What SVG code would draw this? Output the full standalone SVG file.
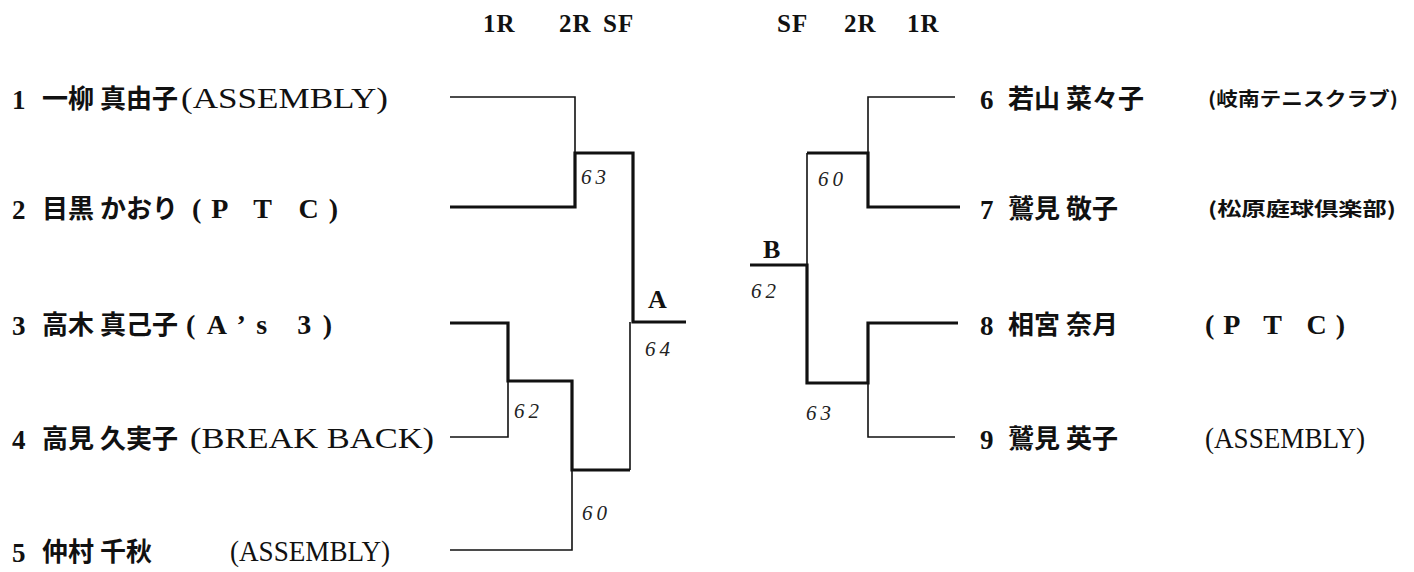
<svg xmlns="http://www.w3.org/2000/svg" width="1414" height="572" viewBox="0 0 1414 572">
<style>
.bg{fill:#fff}
.num{font-family:"Liberation Serif",serif;font-weight:bold;font-size:27px;fill:#111}
.jp{font-family:"Noto Sans CJK JP",sans-serif;font-weight:700;font-size:26px;fill:#111}
.lat{font-family:"Liberation Serif","Noto Sans CJK JP",serif;font-size:30px;fill:#111}
.latb{font-family:"Liberation Serif","Noto Sans CJK JP",serif;font-weight:bold;font-size:28px;fill:#111}
.club{font-family:"Noto Sans CJK JP",sans-serif;font-weight:bold;font-size:19px;fill:#111}
.hdr{font-family:"Liberation Serif",serif;font-weight:bold;font-size:25px;fill:#111;letter-spacing:1px}
.mk{font-family:"Liberation Serif",serif;font-weight:bold;font-size:26px;fill:#111}
.sc{font-family:"Liberation Serif",serif;font-style:italic;font-size:21px;fill:#222;letter-spacing:4px}
.thin{fill:none;stroke:#111;stroke-width:1.6}
.thick{fill:none;stroke:#111;stroke-width:3.2}
</style>
<rect class="bg" x="0" y="0" width="1414" height="572"/>
<g id="headers">
<text class="hdr" x="483" y="32">1R</text>
<text class="hdr" x="559" y="32">2R</text>
<text class="hdr" x="603" y="32">SF</text>
<text class="hdr" x="777" y="32">SF</text>
<text class="hdr" x="844" y="32">2R</text>
<text class="hdr" x="907" y="32">1R</text>
</g>
<g id="connectors">
<path class="thin" d="M450,97 H575 V153"/>
<path class="thick" d="M450,207 H575 V153 H633 V322 H686"/>
<path class="thick" d="M450,323 H508 V381 H572 V470 H630"/>
<path class="thin" d="M450,437 H508 V381"/>
<path class="thin" d="M450,550 H572 V470"/>
<path class="thin" d="M630,322 V470"/>
<path class="thin" d="M955,97 H868 V153"/>
<path class="thick" d="M960,207 H868 V153 H807"/>
<path class="thin" d="M807,153 V265"/>
<path class="thick" d="M958,323 H868 V383 H807 V265 H750"/>
<path class="thin" d="M955,437 H868 V383"/>
</g>
<g id="scores">
<text class="sc" x="581" y="184">63</text>
<text class="sc" x="514" y="418">62</text>
<text class="sc" x="582" y="520">60</text>
<text class="sc" x="645" y="356">64</text>
<text class="sc" x="818" y="186">60</text>
<text class="sc" x="751" y="298">62</text>
<text class="sc" x="806" y="420">63</text>
</g>
<g id="final-A"><text class="mk" x="648" y="308">A</text></g>
<g id="final-B"><text class="mk" x="763" y="258">B</text></g>
<g id="p1"><text class="num" x="12" y="109">1</text><text class="jp" x="42" y="108">一柳 真由子</text><text class="lat" x="181" y="108" textLength="207" lengthAdjust="spacingAndGlyphs">(ASSEMBLY)</text></g>
<g id="p2"><text class="num" x="12" y="219">2</text><text class="jp" x="42" y="218">目黒 かおり</text><text class="latb" x="192" y="218" textLength="146" lengthAdjust="spacing">(P T C)</text></g>
<g id="p3"><text class="num" x="12" y="335">3</text><text class="jp" x="42" y="334">高木 真己子</text><text class="latb" x="186" y="334" textLength="146" lengthAdjust="spacing">(A’s 3)</text></g>
<g id="p4"><text class="num" x="12" y="449">4</text><text class="jp" x="42" y="448">高見 久実子</text><text class="lat" x="190" y="448" textLength="244" lengthAdjust="spacingAndGlyphs">(BREAK BACK)</text></g>
<g id="p5"><text class="num" x="12" y="562">5</text><text class="jp" x="42" y="561">仲村 千秋</text><text class="lat" x="230" y="561" textLength="160" lengthAdjust="spacingAndGlyphs">(ASSEMBLY)</text></g>
<g id="p6"><text class="num" x="980" y="109">6</text><text class="jp" x="1008" y="108">若山 菜々子</text><text class="club" x="1208" y="106" textLength="190" lengthAdjust="spacingAndGlyphs">(岐南テニスクラブ)</text></g>
<g id="p7"><text class="num" x="980" y="219">7</text><text class="jp" x="1008" y="218">鷲見 敬子</text><text class="club" x="1208" y="216" textLength="188" lengthAdjust="spacingAndGlyphs">(松原庭球倶楽部)</text></g>
<g id="p8"><text class="num" x="980" y="335">8</text><text class="jp" x="1008" y="334">相宮 奈月</text><text class="latb" x="1205" y="334" textLength="140" lengthAdjust="spacing">(P T C)</text></g>
<g id="p9"><text class="num" x="980" y="449">9</text><text class="jp" x="1008" y="448">鷲見 英子</text><text class="lat" x="1205" y="448" textLength="160" lengthAdjust="spacingAndGlyphs">(ASSEMBLY)</text></g>
</svg>
